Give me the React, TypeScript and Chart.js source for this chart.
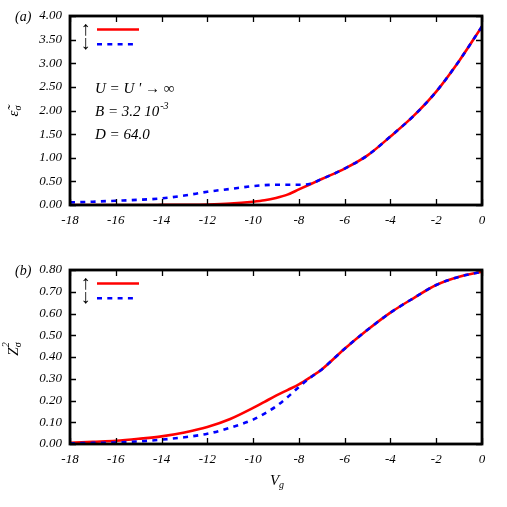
import React, { useEffect, useRef } from "react";
import { Chart, registerables } from "chart.js";

Chart.register(...registerables);

// Gate voltage grid (x values)
const vg = [-18, -17, -16, -15, -14, -13, -12, -11, -10, -9.5, -9, -8.5, -8, -7.5, -7, -6, -5, -4, -3, -2, -1, 0];

// panel (a): epsilon tilde sigma
const epsUp = [0, 0, 0, 0, 0.002, 0.005, 0.012, 0.03, 0.07, 0.1, 0.15, 0.22, 0.33, 0.44, 0.55, 0.77, 1.05, 1.45, 1.88, 2.4, 3.05, 3.78];
const epsDown = [0.055, 0.07, 0.09, 0.11, 0.14, 0.2, 0.28, 0.34, 0.4, 0.42, 0.43, 0.43, 0.43, 0.45, 0.55, 0.77, 1.05, 1.45, 1.88, 2.4, 3.05, 3.78];

// panel (b): Z sigma squared
const zUp = [0.005, 0.01, 0.015, 0.024, 0.035, 0.053, 0.078, 0.115, 0.166, 0.194, 0.222, 0.248, 0.274, 0.307, 0.343, 0.438, 0.525, 0.604, 0.67, 0.731, 0.769, 0.792];
const zDown = [0.003, 0.005, 0.007, 0.012, 0.02, 0.031, 0.047, 0.075, 0.112, 0.14, 0.173, 0.215, 0.262, 0.305, 0.343, 0.438, 0.525, 0.604, 0.67, 0.731, 0.769, 0.792];

const xTicks = [-18, -16, -14, -12, -10, -8, -6, -4, -2, 0];
const epsTicks = [0, 0.5, 1, 1.5, 2, 2.5, 3, 3.5, 4];
const zTicks = [0, 0.1, 0.2, 0.3, 0.4, 0.5, 0.6, 0.7, 0.8];

const annotations = ["U = U ' \u2192 \u221e", "B = 3.2 10", "D = 64.0"];

const SERIF = '"Liberation Serif", "DejaVu Serif", serif';
const RED = "#ff0000";
const BLUE = "#0000ff";

type Seg = { t: string; size: number; dy: number; dx?: number };

function drawSegs(ctx: CanvasRenderingContext2D, segs: Seg[], x: number, y: number, align: "left" | "center") {
  let w = 0;
  segs.forEach((s) => {
    ctx.font = `italic ${s.size}px ${SERIF}`;
    if (s.dx === undefined) w += ctx.measureText(s.t).width;
  });
  let cx = align === "center" ? x - w / 2 : x;
  let last = cx;
  segs.forEach((s) => {
    ctx.font = `italic ${s.size}px ${SERIF}`;
    const px = s.dx !== undefined ? last + s.dx : cx;
    ctx.textAlign = "left";
    ctx.textBaseline = "alphabetic";
    ctx.fillText(s.t, px, y + s.dy);
    if (s.dx === undefined) {
      last = cx;
      cx += ctx.measureText(s.t).width;
    }
  });
}

function framePlugin(yTicks: number[]) {
  return {
    id: "frame",
    afterDatasetsDraw(chart: any) {
      const { ctx, chartArea: a, scales } = chart;
      ctx.save();
      ctx.strokeStyle = "#000";
      ctx.lineWidth = 1.3;
      ctx.beginPath();
      xTicks.forEach((v) => {
        const px = Math.round(scales.x.getPixelForValue(v)) + 0.5;
        ctx.moveTo(px, a.bottom);
        ctx.lineTo(px, a.bottom - 6);
        ctx.moveTo(px, a.top);
        ctx.lineTo(px, a.top + 6);
      });
      yTicks.forEach((v) => {
        const py = Math.round(scales.y.getPixelForValue(v)) + 0.5;
        ctx.moveTo(a.left, py);
        ctx.lineTo(a.left + 6, py);
        ctx.moveTo(a.right, py);
        ctx.lineTo(a.right - 6, py);
      });
      ctx.stroke();
      ctx.lineWidth = 2.8;
      ctx.strokeRect(a.left, a.top, a.right - a.left, a.bottom - a.top);
      ctx.restore();
    },
  };
}

function legendAndText(panel: "a" | "b") {
  return {
    id: "texts",
    afterDraw(chart: any) {
      const { ctx, chartArea: a } = chart;
      ctx.save();
      ctx.fillStyle = "#000";
      // panel label
      ctx.font = `italic 14px ${SERIF}`;
      ctx.textAlign = "left";
      ctx.textBaseline = "alphabetic";
      ctx.fillText(panel === "a" ? "(a)" : "(b)", 15, a.top + 5);
      // legend arrows
      ctx.font = `20px ${SERIF}`;
      ctx.textAlign = "center";
      ctx.fillText("\u2191", 85.5, a.top + 19);
      ctx.fillText("\u2193", 85.5, a.top + 32.5);
      // legend samples
      ctx.lineWidth = 2.6;
      ctx.strokeStyle = RED;
      ctx.beginPath();
      ctx.moveTo(97, a.top + 13.5);
      ctx.lineTo(139, a.top + 13.5);
      ctx.stroke();
      ctx.strokeStyle = BLUE;
      ctx.setLineDash([5, 5.3]);
      ctx.beginPath();
      ctx.moveTo(97, a.top + 28.3);
      ctx.lineTo(133.5, a.top + 28.3);
      ctx.stroke();
      ctx.setLineDash([]);

      if (panel === "a") {
        ctx.fillStyle = "#000";
        ctx.font = `italic 15px ${SERIF}`;
        ctx.textAlign = "left";
        ctx.fillText(annotations[0], 95, 93);
        ctx.fillText(annotations[1], 95, 116);
        const w = ctx.measureText(annotations[1]).width;
        ctx.font = `italic 10px ${SERIF}`;
        ctx.fillText("-3", 95 + w + 1, 109);
        ctx.font = `italic 15px ${SERIF}`;
        ctx.fillText(annotations[2], 95, 139);
        // y title (rotated)
        ctx.save();
        ctx.translate(18, 111);
        ctx.rotate(-Math.PI / 2);
        drawSegs(ctx, [
          { t: "\u03b5\u0303", size: 15, dy: 0 },
          { t: "\u03c3", size: 10, dy: 3 },
        ], 0, 0, "center");
        ctx.restore();
      } else {
        ctx.save();
        ctx.translate(18, 99);
        ctx.rotate(-Math.PI / 2);
        drawSegs(ctx, [
          { t: "Z", size: 15, dy: 0 },
          { t: "\u03c3", size: 10, dy: 3 },
          { t: "2", size: 10, dy: -9, dx: 0 },
        ], 0, 0, "center");
        ctx.restore();
        // x title
        drawSegs(ctx, [
          { t: "V", size: 15, dy: 0 },
          { t: "g", size: 10, dy: 3 },
        ], 277, 235, "center");
      }
      ctx.restore();
    },
  };
}

function makeConfig(panel: "a" | "b") {
  const up = panel === "a" ? epsUp : zUp;
  const down = panel === "a" ? epsDown : zDown;
  const yT = panel === "a" ? epsTicks : zTicks;
  const xAxisH = panel === "a" ? 40 : 63;
  const topPad = panel === "a" ? 16 : 20;
  const tickFont = { family: SERIF, size: 13, style: "italic" as const };
  return {
    type: "line" as const,
    data: {
      datasets: [
        {
          label: "down",
          data: vg.map((x, i) => ({ x, y: down[i] })),
          borderColor: BLUE,
          borderWidth: 2.6,
          borderDash: [5, 5.3],
          pointRadius: 0,
          cubicInterpolationMode: "monotone" as const,
          fill: false,
        },
        {
          label: "up",
          data: vg.map((x, i) => ({ x, y: up[i] })),
          borderColor: RED,
          borderWidth: 2.6,
          pointRadius: 0,
          cubicInterpolationMode: "monotone" as const,
          fill: false,
        },
      ],
    },
    options: {
      animation: false as const,
      responsive: false,
      devicePixelRatio: 1,
      layout: { padding: { top: topPad, right: 25, left: 0, bottom: 0 } },
      plugins: { legend: { display: false }, tooltip: { enabled: false } },
      scales: {
        x: {
          type: "linear" as const,
          min: -18,
          max: 0,
          border: { display: false },
          grid: { display: false, drawTicks: false },
          afterBuildTicks: (s: any) => {
            s.ticks = xTicks.map((v) => ({ value: v }));
          },
          afterFit: (s: any) => {
            s.height = xAxisH;
          },
          ticks: {
            color: "#000",
            font: tickFont,
            padding: 8,
            maxRotation: 0,
            autoSkip: false,
            callback: (v: any) => String(v),
          },
        },
        y: {
          type: "linear" as const,
          min: 0,
          max: yT[yT.length - 1],
          border: { display: false },
          grid: { display: false, drawTicks: false },
          afterBuildTicks: (s: any) => {
            s.ticks = yT.map((v) => ({ value: v }));
          },
          afterFit: (s: any) => {
            s.width = 70;
          },
          ticks: {
            color: "#000",
            font: tickFont,
            padding: 8,
            autoSkip: false,
            callback: (v: any) => Number(v).toFixed(2),
          },
        },
      },
    },
    plugins: [framePlugin(yT), legendAndText(panel)],
  };
}

function Panel({ panel, top, height }: { panel: "a" | "b"; top: number; height: number }) {
  const ref = useRef<HTMLCanvasElement | null>(null);
  useEffect(() => {
    if (!ref.current) return;
    const chart = new Chart(ref.current, makeConfig(panel) as any);
    return () => chart.destroy();
  }, [panel]);
  return (
    <canvas
      ref={ref}
      width={507}
      height={height}
      style={{ position: "absolute", left: 0, top, width: 507, height, display: "block" }}
    />
  );
}

export default function App() {
  return (
    <div style={{ position: "fixed", left: 0, top: 0, width: 507, height: 507, background: "#fff" }}>
      <Panel panel="a" top={0} height={245} />
      <Panel panel="b" top={250} height={257} />
    </div>
  );
}
